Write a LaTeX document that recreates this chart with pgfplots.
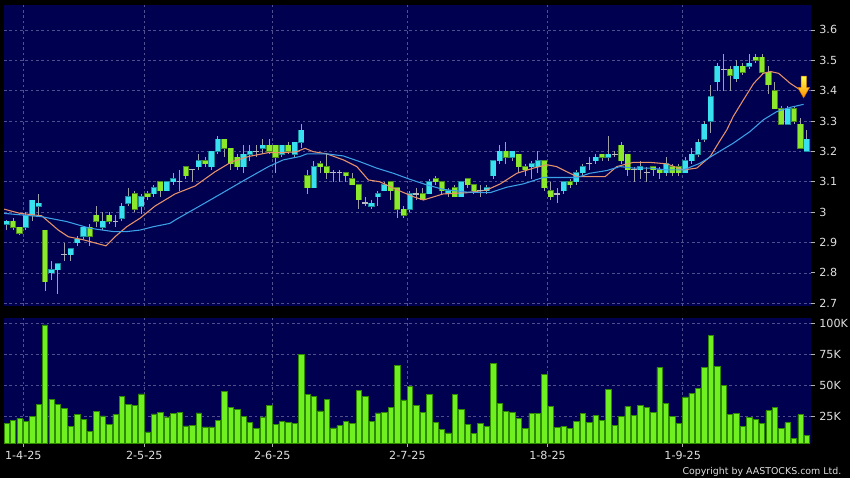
\documentclass[border=0pt]{standalone}
\usepackage{fontspec}
\setmainfont{DejaVu Sans}
\usepackage{pgfplots}
\usepackage{pgfplotstable}
\pgfplotsset{compat=1.18}

\definecolor{panel}{HTML}{000050}
\definecolor{gridc}{HTML}{50508C}
\definecolor{upc}{HTML}{38E0F0}
\definecolor{upedge}{HTML}{1C8C9C}
\definecolor{dnc}{HTML}{8CE82A}
\definecolor{dnedge}{HTML}{4C8C1A}
\definecolor{wickc}{HTML}{A0A0A8}
\definecolor{dojic}{HTML}{B8B8C0}
\definecolor{volc}{HTML}{70F020}
\definecolor{voledge}{HTML}{2E8B00}
\definecolor{ma10}{HTML}{E8926A}
\definecolor{ma20}{HTML}{3CA0E6}
\definecolor{labelc}{HTML}{E0E0E0}
\definecolor{tickc}{HTML}{B0B0B0}

% k open high low close
\pgfplotstableread{
k o h l c
0 2.96 2.975 2.94 2.97
3 2.95 3.00 2.94 2.99
4 2.99 3.04 2.97 3.04
5 3.02 3.06 2.99 3.03
7 2.80 2.84 2.775 2.81
8 2.81 2.83 2.73 2.83
10 2.86 2.88 2.84 2.88
11 2.90 2.92 2.89 2.91
12 2.92 2.95 2.91 2.95
15 2.95 3.00 2.94 2.97
18 2.98 3.03 2.97 3.02
19 3.03 3.08 3.02 3.05
21 3.02 3.06 2.995 3.05
23 3.06 3.09 3.05 3.08
25 3.07 3.10 3.07 3.10
26 3.10 3.13 3.09 3.11
30 3.15 3.19 3.14 3.17
32 3.15 3.20 3.14 3.20
33 3.20 3.25 3.19 3.24
37 3.15 3.22 3.13 3.19
38 3.19 3.22 3.17 3.20
40 3.21 3.24 3.19 3.22
43 3.19 3.22 3.18 3.22
45 3.19 3.23 3.18 3.23
46 3.23 3.29 3.21 3.27
48 3.08 3.17 3.08 3.15
57 3.02 3.04 3.01 3.03
58 3.05 3.07 3.02 3.06
59 3.07 3.10 3.07 3.09
63 3.01 3.07 3.00 3.06
66 3.06 3.11 3.06 3.10
69 3.06 3.08 3.05 3.07
71 3.05 3.10 3.05 3.10
75 3.07 3.09 3.06 3.08
76 3.12 3.17 3.11 3.17
77 3.17 3.22 3.16 3.20
79 3.18 3.20 3.17 3.20
82 3.15 3.17 3.11 3.16
83 3.15 3.20 3.13 3.17
87 3.07 3.10 3.06 3.10
89 3.10 3.14 3.09 3.13
90 3.13 3.16 3.12 3.15
92 3.17 3.19 3.16 3.18
94 3.18 3.25 3.17 3.19
99 3.14 3.17 3.11 3.15
103 3.13 3.18 3.12 3.16
106 3.13 3.18 3.13 3.17
107 3.17 3.21 3.16 3.19
108 3.19 3.24 3.18 3.23
109 3.24 3.30 3.23 3.29
110 3.30 3.42 3.26 3.38
111 3.43 3.49 3.40 3.48
114 3.44 3.50 3.43 3.48
116 3.48 3.52 3.47 3.49
122 3.29 3.35 3.29 3.34
125 3.20 3.27 3.20 3.24
}\upT

\pgfplotstableread{
k o h l c
1 2.97 2.98 2.94 2.95
2 2.95 2.95 2.925 2.93
6 2.94 2.94 2.74 2.77
13 2.95 2.96 2.89 2.92
14 2.99 3.02 2.95 2.97
16 2.99 3.00 2.96 2.97
20 3.06 3.07 3.00 3.01
22 3.06 3.07 3.04 3.05
24 3.10 3.10 3.05 3.07
28 3.15 3.15 3.11 3.12
31 3.17 3.18 3.15 3.16
34 3.24 3.24 3.18 3.21
35 3.21 3.21 3.14 3.16
36 3.18 3.19 3.14 3.15
41 3.22 3.24 3.19 3.20
42 3.22 3.22 3.13 3.18
44 3.22 3.23 3.19 3.20
47 3.12 3.14 3.06 3.08
49 3.16 3.17 3.13 3.15
50 3.15 3.19 3.11 3.13
53 3.13 3.13 3.10 3.12
54 3.11 3.13 3.09 3.09
55 3.09 3.09 3.01 3.04
60 3.10 3.10 3.04 3.07
61 3.08 3.08 2.98 3.01
62 3.01 3.02 2.98 2.99
65 3.06 3.08 3.04 3.04
67 3.11 3.12 3.09 3.10
68 3.10 3.10 3.06 3.07
70 3.08 3.09 3.05 3.05
72 3.11 3.11 3.08 3.09
73 3.09 3.09 3.06 3.07
78 3.20 3.23 3.16 3.18
80 3.19 3.19 3.13 3.15
81 3.15 3.16 3.12 3.14
84 3.17 3.17 3.07 3.08
85 3.07 3.10 3.04 3.05
88 3.10 3.11 3.08 3.09
93 3.19 3.19 3.17 3.18
96 3.22 3.23 3.16 3.17
97 3.19 3.19 3.12 3.14
101 3.15 3.15 3.12 3.14
102 3.14 3.15 3.11 3.13
104 3.15 3.16 3.12 3.13
105 3.15 3.16 3.12 3.13
113 3.47 3.48 3.40 3.45
115 3.48 3.49 3.45 3.46
117 3.51 3.52 3.49 3.50
118 3.51 3.52 3.45 3.46
119 3.46 3.48 3.39 3.42
120 3.40 3.43 3.34 3.34
121 3.34 3.35 3.29 3.29
123 3.34 3.35 3.29 3.30
124 3.29 3.31 3.21 3.21
}\dnT

\pgfplotstableread{
k o h l c
9 2.86 2.90 2.84 2.86
17 2.97 2.99 2.95 2.97
27 3.10 3.14 3.07 3.10
29 3.14 3.14 3.10 3.14
39 3.20 3.22 3.18 3.20
51 3.13 3.14 3.10 3.13
52 3.13 3.14 3.10 3.13
56 3.03 3.05 3.02 3.03
64 3.06 3.08 3.04 3.06
74 3.07 3.09 3.05 3.07
86 3.06 3.08 3.03 3.06
91 3.16 3.18 3.14 3.16
95 3.19 3.20 3.18 3.19
98 3.14 3.15 3.10 3.14
100 3.13 3.15 3.10 3.13
112 3.47 3.52 3.40 3.47
}\djT

\pgfplotstableread{
k v
0 19400
1 21500
2 23400
3 20700
4 24700
5 34700
6 98700
7 38400
8 34700
9 31700
10 16900
11 26600
12 22300
13 12900
14 29000
15 25300
16 18300
17 26600
18 41100
19 34700
20 33600
21 43000
22 12400
23 26900
24 28200
25 24500
26 27200
27 28000
28 17200
29 17700
30 27700
31 16400
32 16400
33 21800
34 45200
35 32000
36 30900
37 25000
38 19900
39 15000
40 24500
41 33600
42 18300
43 21000
44 19900
45 19100
46 74700
47 42500
48 41100
49 29300
50 38700
51 15600
52 17500
53 21000
54 19100
55 46000
56 40900
57 20700
58 27700
59 28200
60 32500
61 66100
62 38200
63 49200
64 33900
65 28200
66 42600
67 19900
68 14500
69 11600
70 42700
71 30900
72 18500
73 11000
74 19600
75 16700
76 68000
77 35200
78 29000
79 28000
80 23100
81 15000
82 27200
83 27200
84 58600
85 32800
86 16100
87 16900
88 15000
89 21000
90 27400
91 20400
92 25800
93 22000
94 47000
95 17500
96 24700
97 33000
98 25800
99 33900
100 32500
101 28200
102 64500
103 35200
104 25000
105 19600
106 40600
107 43500
108 47800
109 64200
110 90300
111 65300
112 50000
113 26600
114 27400
115 16900
116 24200
117 22300
118 19100
119 29600
120 32000
121 15000
122 19900
123 7500
124 26300
125 9900
}\volT

\pgfplotsset{
  panelstyle/.style={
    scale only axis, anchor=south west,
    width=605bp,
    xmin=-0.42, xmax=125.6,
    axis background/.style={fill=panel},
    axis line style={draw=none},
    xtick={2.59,21.5,41.5,62.6,84.5,105.6},
    ytick pos=right, yticklabel pos=right,
    tick align=outside, major tick length=3bp,
    tick style={color=tickc, line width=0.6bp},
    tick label style={font=\fontsize{8.4}{9}\selectfont, text=labelc},
    /pgf/number format/assume math mode=true,
    grid=major,
    major grid style={gridc, line width=0.5bp, dash pattern=on 2bp off 2bp},
  },
  candle/.style 2 args={forget plot, draw=none, mark=none,
    error bars/y dir=both, error bars/y explicit, error bars/error mark=none,
    error bars/error bar style={draw=#1, line width=#2, solid}},
}

\begin{document}
\begin{tikzpicture}[x=1bp,y=1bp]
\fill[black] (0,0) rectangle (637.5,358.5);

% price panel
\begin{axis}[panelstyle,
  at={(3bp,129bp)}, height=225.75bp,
  ymin=2.691, ymax=3.682,
  ytick={2.7,2.8,2.9,3.0,3.1,3.2,3.3,3.4,3.5,3.6},
  xticklabels={}, major x tick style={draw=none},
]
% wicks: low to high
\addplot[candle={wickc}{0.75bp}]
  table[x=k, y expr=(\thisrow{h}+\thisrow{l})/2, y error expr=(\thisrow{h}-\thisrow{l})/2] {\upT};
\addplot[candle={wickc}{0.75bp}]
  table[x=k, y expr=(\thisrow{h}+\thisrow{l})/2, y error expr=(\thisrow{h}-\thisrow{l})/2] {\dnT};
\addplot[candle={wickc}{0.75bp}]
  table[x=k, y expr=(\thisrow{h}+\thisrow{l})/2, y error expr=(\thisrow{h}-\thisrow{l})/2] {\djT};
% bodies: open to close, a darker edge under a lighter fill
\addplot[candle={upedge}{4.6bp}]
  table[x=k, y expr=(\thisrow{o}+\thisrow{c})/2, y error expr=(\thisrow{c}-\thisrow{o})/2+0.0016] {\upT};
\addplot[candle={upc}{3.6bp}]
  table[x=k, y expr=(\thisrow{o}+\thisrow{c})/2, y error expr=(\thisrow{c}-\thisrow{o})/2] {\upT};
\addplot[candle={dnedge}{4.6bp}]
  table[x=k, y expr=(\thisrow{o}+\thisrow{c})/2, y error expr=(\thisrow{o}-\thisrow{c})/2+0.0016] {\dnT};
\addplot[candle={dnc}{3.6bp}]
  table[x=k, y expr=(\thisrow{o}+\thisrow{c})/2, y error expr=(\thisrow{o}-\thisrow{c})/2] {\dnT};
% doji
\addplot[forget plot, only marks, mark=-, mark size=2.2bp, mark options={line width=0.9bp, draw=dojic}]
  table[x=k, y=c] {\djT};

% 10-day average
\addplot[ma10, line width=0.8bp, sharp plot] coordinates {
(-0.42,3.010) (2.08,2.996) (5.47,2.988) (8.06,2.941) (9.63,2.919) (11.97,2.909)
(15.52,2.889) (16.92,2.919) (18.75,2.952) (20.83,2.980) (23.17,3.020) (26.30,3.060)
(29.42,3.086) (32.55,3.133) (35.16,3.166) (37.75,3.183) (40.88,3.196) (43.2,3.196)
(45.3,3.199) (46.6,3.210) (47.9,3.199) (50.0,3.192) (52.6,3.172) (54.7,3.150)
(56.5,3.106) (58.3,3.100) (60.4,3.079) (63.5,3.051) (65.1,3.040) (68.2,3.060)
(71.9,3.064) (75.0,3.073) (77.1,3.093) (79.7,3.128) (82.3,3.145) (84.4,3.156)
(85.9,3.150) (87.5,3.133) (89.1,3.117) (91.1,3.117) (93.5,3.117) (95.3,3.150)
(97.9,3.164) (100.5,3.164) (103.1,3.159) (105.7,3.139) (107.8,3.145) (109.9,3.183)
(111.5,3.238) (112.5,3.271) (113.5,3.315) (115.1,3.370) (116.7,3.424) (118.2,3.457)
(119.3,3.463) (120.6,3.457) (122.4,3.424) (124.0,3.402) (124.5,3.400)
};
% 20-day average
\addplot[ma20, line width=0.8bp, sharp plot] coordinates {
(-0.42,2.996) (5.47,2.985) (9.38,2.969) (13.0,2.947) (16.66,2.936) (18.75,2.936)
(20.83,2.941) (22.9,2.952) (25.5,2.963) (26.3,2.974) (30.47,3.024) (33.6,3.062)
(37.2,3.106) (40.9,3.150) (43.2,3.172) (45.8,3.183) (46.9,3.192) (50.0,3.192)
(52.6,3.185) (55.2,3.166) (57.8,3.145) (60.4,3.128) (63.0,3.108) (65.6,3.090)
(68.2,3.075) (71.9,3.066) (75.5,3.064) (78.1,3.082) (80.7,3.093) (83.8,3.114)
(86.5,3.114) (89.1,3.114) (91.1,3.128) (93.75,3.137) (95.8,3.150) (97.9,3.145)
(100.5,3.145) (103.1,3.139) (105.7,3.139) (108.3,3.161) (110.9,3.194) (113.5,3.227)
(116.1,3.265) (118.2,3.304) (120.3,3.331) (122.4,3.345) (124.5,3.355)
};

% signal arrow
\fill[top color=yellow!70!white, bottom color=orange!90!yellow, draw=orange!80!black, line width=0.3bp]
  (axis cs:124.5,3.376) -- (axis cs:123.55,3.411) -- (axis cs:124.1,3.411)
  -- (axis cs:124.1,3.448) -- (axis cs:124.95,3.448) -- (axis cs:124.95,3.411)
  -- (axis cs:125.45,3.411) -- cycle;
\end{axis}

% volume panel
\begin{axis}[panelstyle,
  at={(3bp,26.25bp)}, height=93.75bp,
  ymin=3470, ymax=104300,
  ytick={25000,50000,75000,100000}, yticklabels={25K,50K,75K,100K},
  scaled y ticks=false,
  xtick pos=bottom,
  xticklabels={1-4-25,2-5-25,2-6-25,2-7-25,1-8-25,1-9-25},
]
\addplot[ybar, bar width=4bp, bar shift=0pt, fill=volc, draw=voledge, line width=0.4bp]
  table[x=k, y=v] {\volT};
\end{axis}

\node[anchor=base east, font=\fontsize{7.1}{8}\selectfont, text=labelc] at (634.5,3) {Copyright by AASTOCKS.com Ltd.};

\pgfresetboundingbox
\path[use as bounding box] (0,0) rectangle (637.5,358.5);
\end{tikzpicture}
\end{document}
